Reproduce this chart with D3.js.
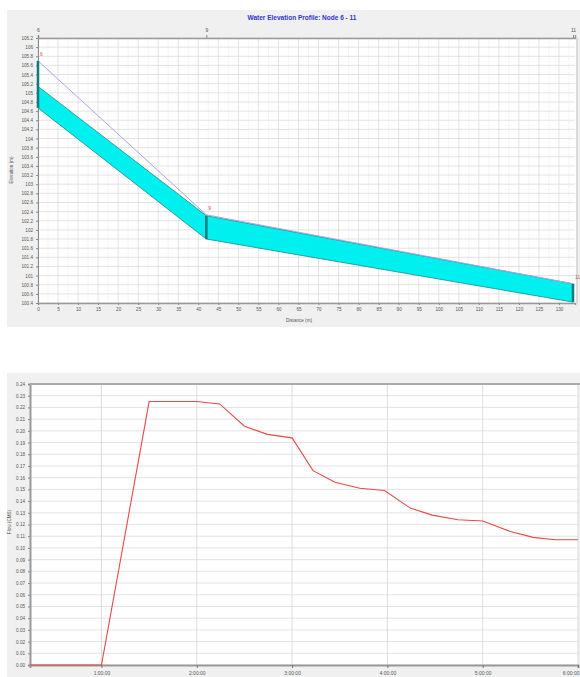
<!DOCTYPE html>
<html><head><meta charset="utf-8">
<script src="https://cdn.jsdelivr.net/npm/d3@7"></script>
<style>body{margin:0;background:#fff;font-family:"Liberation Sans",Arial,sans-serif}</style>
</head><body><svg id="c" width="580" height="677"></svg>
<script>
// ---------- Top chart data: profile ----------
const nodeNames = ["6", "9", "11"];
const nodeDist = [0, 42, 133.5];
const nodeTop = [105.70, 102.31, 100.82];
const pipeCrown = [105.14, 102.31, 100.82];
const pipeInvert = [104.67, 101.80, 100.42];
const hgl = [105.70, 102.33, 100.82];
const distTicks = [0,5,10,15,20,25,30,35,40,45,50,55,60,65,70,75,80,85,90,95,100,105,110,115,120,125,130];
const elevTicks = [100.4,100.6,100.8,101,101.2,101.4,101.6,101.8,102,102.2,102.4,102.6,102.8,103,103.2,103.4,103.6,103.8,104,104.2,104.4,104.6,104.8,105,105.2,105.4,105.6,105.8,106,106.2];
// ---------- Bottom chart data: flow hydrograph ----------
const timeHr = [0.25,1.0,1.5,2.0,2.24,2.5,2.74,3.0,3.22,3.45,3.71,3.97,4.24,4.47,4.74,5.0,5.29,5.53,5.76,6.0];
const flow = [0,0,0.225,0.225,0.223,0.204,0.197,0.194,0.166,0.156,0.151,0.149,0.134,0.128,0.124,0.123,0.114,0.109,0.107,0.107];
const timeTicks = [1,2,3,4,5,6];
const timeLabels = ["1:00:00","2:00:00","3:00:00","4:00:00","5:00:00","6:00:00"];
const flowTicks = [0,0.01,0.02,0.03,0.04,0.05,0.06,0.07,0.08,0.09,0.1,0.11,0.12,0.13,0.14,0.15,0.16,0.17,0.18,0.19,0.2,0.21,0.22,0.23,0.24];

const svg = d3.select("#c");

// ================= TOP CHART =================
const T = {x0:38, x1:575, y0:38, y1:303};
svg.append("rect").attr("x",7).attr("y",10).attr("width",573).attr("height",317).attr("fill","#f0f0f0");
svg.append("rect").attr("x",T.x0).attr("y",T.y0).attr("width",T.x1-T.x0+2).attr("height",T.y1-T.y0).attr("fill","#fff");
svg.append("text").attr("x",302).attr("y",20).attr("text-anchor","middle").attr("font-size",6.5).attr("font-weight","bold").attr("fill","#3333cc").text("Water Elevation Profile: Node 6 - 11");

const xT = d3.scaleLinear().domain([0,134]).range([T.x0,T.x1]);
const yT = d3.scaleLinear().domain([100.4,106.2]).range([T.y1,T.y0]);

// grid
const gT = svg.append("g");
gT.selectAll(".vg").data(distTicks).join("line").attr("x1",d=>xT(d)).attr("x2",d=>xT(d)).attr("y1",T.y0).attr("y2",T.y1).attr("stroke","#dcdcdc").attr("stroke-width",0.8);
gT.selectAll(".vg2").data(distTicks).join("line").attr("x1",d=>xT(d+2.5)).attr("x2",d=>xT(d+2.5)).attr("y1",T.y0).attr("y2",T.y1).attr("stroke","#eeeeee").attr("stroke-width",0.6);
gT.selectAll(".hg").data(elevTicks).join("line").attr("x1",T.x0).attr("x2",T.x1).attr("y1",d=>yT(d)).attr("y2",d=>yT(d)).attr("stroke","#dcdcdc").attr("stroke-width",0.8);

// axes
const axL = svg.append("g").attr("transform",`translate(${T.x0},0)`).call(d3.axisLeft(yT).tickValues(elevTicks).tickFormat(d=>String(d)).tickSize(2));
axL.select(".domain").attr("stroke","#888");
axL.selectAll("text").attr("font-size",4.6).attr("fill","#555");
axL.selectAll("line").attr("stroke","#888");
const axB = svg.append("g").attr("transform",`translate(0,${T.y1})`).call(d3.axisBottom(xT).tickValues(distTicks).tickSize(2));
axB.select(".domain").attr("stroke","#999").attr("stroke-width",1.5);
axB.selectAll("text").attr("font-size",4.6).attr("fill","#555");
axB.selectAll("line").attr("stroke","#888");
const axTop = svg.append("g").attr("transform",`translate(0,${T.y0})`).call(d3.axisTop(xT).tickValues(nodeDist).tickFormat((d,i)=>nodeNames[i]).tickSize(3));
axTop.select(".domain").attr("stroke","#999").attr("stroke-width",1.5);
axTop.selectAll("text").attr("font-size",5).attr("fill","#555");
axTop.selectAll("line").attr("stroke","#888");
svg.append("line").attr("x1",T.x1+2).attr("x2",T.x1+2).attr("y1",T.y0).attr("y2",T.y1).attr("stroke","#bbb");
svg.append("text").attr("transform",`translate(13,170) rotate(-90)`).attr("text-anchor","middle").attr("font-size",4.6).attr("fill","#555").text("Elevation (m)");
svg.append("text").attr("x",299).attr("y",322).attr("text-anchor","middle").attr("font-size",4.6).attr("fill","#555").text("Distance (m)");

// pipe band
const idx = d3.range(nodeDist.length);
const band = d3.area().x(i=>xT(nodeDist[i])).y0(i=>yT(pipeInvert[i])).y1(i=>yT(pipeCrown[i]));
svg.append("path").datum(idx).attr("d",band).attr("fill","#00f0f0").attr("stroke","#1a8a8a").attr("stroke-width",0.8);
// HGL
svg.append("path").datum(idx).attr("d",d3.line().x(i=>xT(nodeDist[i])).y(i=>yT(hgl[i]))).attr("fill","none").attr("stroke","#a7a7e8").attr("stroke-width",1);
// manholes
svg.selectAll(".mh").data(idx).join("line").attr("x1",i=>xT(nodeDist[i])).attr("x2",i=>xT(nodeDist[i])).attr("y1",i=>yT(nodeTop[i])).attr("y2",i=>yT(pipeInvert[i])).attr("stroke","#137a7a").attr("stroke-width",2.5);
svg.selectAll(".nl").data(idx).join("text").attr("x",i=>xT(nodeDist[i])+2).attr("y",i=>yT(Math.max(nodeTop[i],hgl[i]))-5).attr("font-size",5).attr("fill","#cc5555").text(i=>nodeNames[i]);

// ================= BOTTOM CHART =================
const B = {x0:30, x1:578, y0:384, y1:665};
svg.append("rect").attr("x",7).attr("y",373).attr("width",573).attr("height",304).attr("fill","#f0f0f0");
svg.append("rect").attr("x",B.x0).attr("y",B.y0).attr("width",B.x1-B.x0).attr("height",B.y1-B.y0).attr("fill","#fff");
const xB = d3.scaleLinear().domain([0.25,6]).range([B.x0,B.x1]);
const yB = d3.scaleLinear().domain([0,0.24]).range([B.y1,B.y0]);
const gB = svg.append("g");
gB.selectAll(".hg").data(flowTicks).join("line").attr("x1",B.x0).attr("x2",B.x1).attr("y1",d=>yB(d)).attr("y2",d=>yB(d)).attr("stroke","#dcdcdc").attr("stroke-width",0.8);
gB.selectAll(".vg").data(timeTicks).join("line").attr("x1",d=>xB(d)).attr("x2",d=>xB(d)).attr("y1",B.y0).attr("y2",B.y1).attr("stroke","#d4d4d4").attr("stroke-width",0.8);
const bL = svg.append("g").attr("transform",`translate(${B.x0},0)`).call(d3.axisLeft(yB).tickValues(flowTicks).tickFormat(d3.format(".2f")).tickSize(2));
bL.select(".domain").attr("stroke","#999").attr("stroke-width",2);
bL.selectAll("text").attr("font-size",4.6).attr("fill","#555");
bL.selectAll("line").attr("stroke","#888");
const bB = svg.append("g").attr("transform",`translate(0,${B.y1})`).call(d3.axisBottom(xB).tickValues(timeTicks).tickFormat((d,i)=>timeLabels[i]).tickSize(3));
bB.select(".domain").attr("stroke","#999").attr("stroke-width",2);
bB.selectAll("text").attr("font-size",5).attr("fill","#555");
bB.selectAll(".tick:last-of-type text").attr("text-anchor","end").attr("dx",1);
bB.selectAll("line").attr("stroke","#777");
svg.append("line").attr("x1",B.x0).attr("x2",580).attr("y1",B.y0).attr("y2",B.y0).attr("stroke","#aaa").attr("stroke-width",2);
svg.append("text").attr("transform",`translate(11,522) rotate(-90)`).attr("text-anchor","middle").attr("font-size",4.6).attr("fill","#555").text("Flow (CMS)");
svg.append("path").datum(d3.range(timeHr.length)).attr("d",d3.line().x(i=>xB(timeHr[i])).y(i=>yB(flow[i]))).attr("fill","none").attr("stroke","#e84848").attr("stroke-width",1.1);
</script></body></html>
